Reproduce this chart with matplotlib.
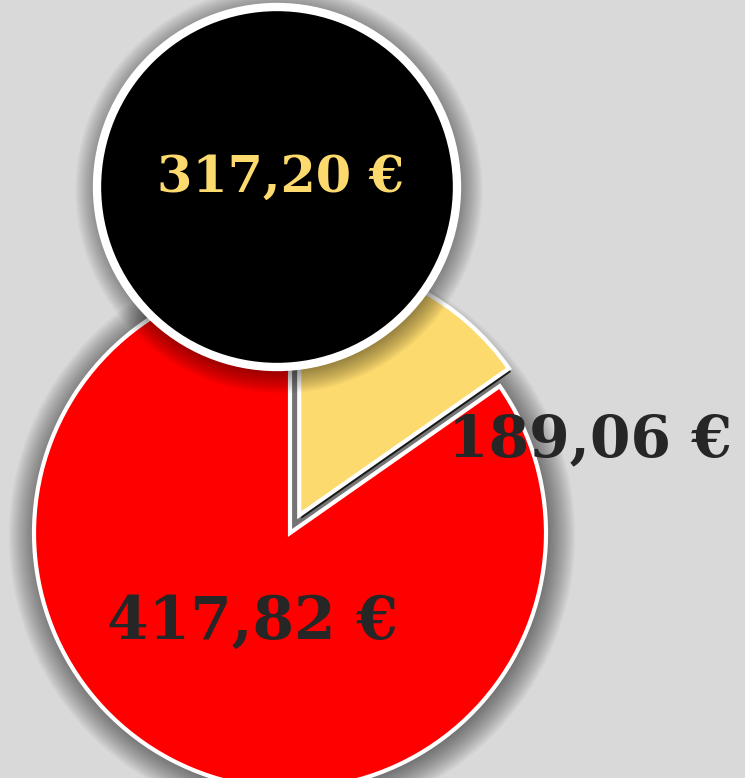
import matplotlib.pyplot as plt
from matplotlib.patches import Circle
from matplotlib import patheffects

# amounts shown on the chart (labels)
labels = ['417,82 €', '189,06 €', '317,20 €']
amounts = [417.82, 189.06, 317.20]
# share of the lower pie as drawn in the picture (degrees)
pie_share = [305, 55]

colours = ['#ff0000', '#fcda6e', '#000000']
bg = '#d9d9d9'
txt = '#262626'

fig = plt.figure(figsize=(7.45, 7.78), dpi=100, facecolor=bg)
ax = fig.add_axes([0, 0, 1, 1])
ax.set_facecolor(bg)

def soft_shadow(cx, cy, r, z, n=16, step=1.8, dx=2, dy=-3):
    for i in range(n):
        ax.add_patch(Circle((cx + dx, cy + dy), r + i * step, color='k',
                            alpha=0.035, lw=0, zorder=z))

# lower pie (red + yellow)
pie_c = (290, 245)
pie_r = 256
soft_shadow(*pie_c, pie_r, 0)
wedges, _ = ax.pie(pie_share, colors=colours[:2], startangle=35, counterclock=False,
                   center=pie_c, radius=pie_r, explode=[0, 20],
                   wedgeprops=dict(edgecolor='white', linewidth=3), frame=True)
wedges[1].set_path_effects([patheffects.SimplePatchShadow(offset=(1.5, -2.5), shadow_rgbFace='k', alpha=0.8),
                            patheffects.Normal()])

# top circle (black)
top_c = (277, 591)
top_r = 180
soft_shadow(*top_c, top_r, 4, n=14)
top, _ = ax.pie([amounts[2]], colors=[colours[2]], center=top_c, radius=top_r,
                wedgeprops=dict(edgecolor='white', linewidth=6), frame=True)
for w in top:
    w.set_zorder(5)

ax.set_xlim(0, 745)
ax.set_ylim(0, 778)
ax.set_aspect('equal')
ax.axis('off')

font = dict(family='DejaVu Serif', weight='bold', ha='center', va='center')
ax.text(281, 600, labels[2], color=colours[1], fontsize=36.5, zorder=6, **font)
ax.text(590, 338, labels[1], color=txt, fontsize=42, zorder=6, **font)
ax.text(252, 156, labels[0], color=txt, fontsize=43, zorder=6, **font)

fig.savefig('out.png', dpi=100, facecolor=bg)
